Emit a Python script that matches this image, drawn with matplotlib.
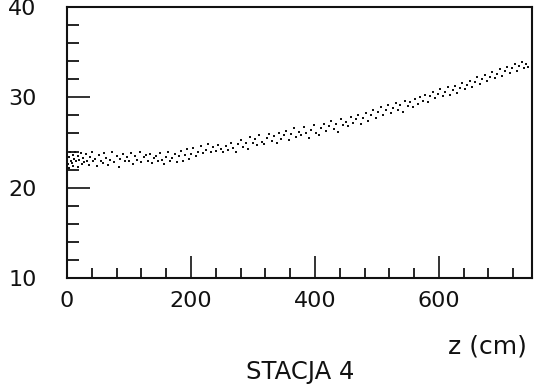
import matplotlib
matplotlib.use("Agg")
import matplotlib.pyplot as plt
from matplotlib.ticker import MultipleLocator, FixedLocator

# points (z in cm, value)
z_pts = [
    2, 3, 4, 5, 6, 8, 9, 10, 12, 13, 15, 17, 18, 20, 22, 24, 26, 28, 30, 32, 35, 37, 40, 42, 45, 48,
    52, 55, 58, 60, 63, 66, 70, 72, 75, 80, 84, 86, 90, 93, 97, 100, 103, 106, 110, 113, 117, 120,
    124, 127, 130, 134, 137, 140, 144, 147,
    150, 153, 156, 160, 163, 166, 170, 174, 177, 180, 184, 187, 190, 194, 197, 200, 204, 208, 212,
    216, 220, 224, 228, 232, 236, 240, 244, 248,
    252, 256, 260, 264, 268, 272, 276, 280, 284, 288, 292, 296, 300, 303, 307, 310, 314, 318, 322,
    326, 330, 334, 338, 342, 346,
    350, 354, 358, 362, 366, 370, 374, 378, 382, 386, 390, 394, 398, 402, 406, 410, 414, 418, 422,
    426, 430, 434, 438, 442, 446,
    450, 454, 458, 462, 466, 470, 474, 478, 482, 486, 490, 494, 498, 502, 506, 510, 514, 518, 522,
    526, 530, 534, 538, 542, 546,
    550, 554, 558, 562, 566, 570, 574, 578, 582, 586, 590, 594, 598, 602, 606, 610, 614, 618, 622,
    626, 630, 634, 638, 642, 646,
    650, 654, 658, 662, 666, 670, 674, 678, 682, 686, 690, 694, 698, 702, 706, 710, 714, 718, 722,
    726, 730, 734, 738, 741, 744,
]
v_pts = [
    22.6, 23.4, 22.2, 23.9, 23.0, 22.7, 23.6, 22.4, 23.2, 24.0, 22.9, 23.5, 22.3, 23.1, 23.8, 22.6,
    23.3, 22.8, 23.7, 23.0, 22.5, 23.4, 23.9, 22.9, 23.2, 22.4,
    23.6, 23.0, 22.7, 23.8, 23.3, 22.5, 23.1, 23.9, 22.8, 23.5, 22.3, 23.2, 23.7, 22.9, 23.4, 23.0,
    23.8, 22.6, 23.5, 23.1, 23.9, 22.8, 23.4, 23.6, 23.0, 23.7, 22.7, 23.3, 23.5, 22.9,
    23.8, 23.1, 22.6, 23.4, 23.9, 22.9, 23.3, 23.7, 22.8, 23.5, 24.1, 23.0, 23.6, 24.3, 23.2, 23.7,
    24.4, 23.5, 24.0, 24.6, 23.8, 24.2, 24.8, 23.9, 24.5, 24.1, 24.7, 24.3,
    23.9, 24.6, 24.2, 25.0, 24.4, 24.0, 24.8, 25.3, 24.5, 25.0, 24.3, 25.6, 24.9, 25.4, 24.7, 25.8,
    25.1, 24.8, 25.5, 25.9, 25.2, 25.7, 25.0, 26.1, 25.4,
    25.8, 26.3, 25.3, 25.9, 26.6, 25.6, 26.2, 25.8, 26.7, 26.0, 25.5, 26.4, 26.9, 26.1, 25.8, 26.6,
    27.1, 26.3, 26.8, 27.4, 26.5, 27.0, 26.2, 27.6, 26.9,
    27.3, 26.8, 27.8, 27.2, 27.6, 28.1, 27.0, 27.7, 28.3, 27.4, 28.0, 28.6, 27.7, 28.4, 28.9, 28.1,
    28.6, 29.2, 28.3, 28.8, 29.4, 28.6, 29.1, 28.4, 29.6,
    29.0, 29.5, 28.9, 29.8, 29.3, 30.0, 29.6, 30.3, 29.5, 30.1, 30.6, 29.9, 30.4, 30.9, 30.1, 30.6,
    31.1, 30.3, 30.8, 31.3, 30.5, 31.0, 31.6, 30.9, 31.4,
    31.8, 31.2, 31.7, 32.2, 31.5, 32.0, 32.5, 31.8, 32.3, 32.8, 32.1, 32.6, 33.1, 32.4, 32.9, 33.4,
    32.7, 33.2, 33.7, 32.9, 33.5, 33.9, 33.2, 33.7, 33.4,
]

x_major = [0, 200, 400, 600]
x_labels = ["0", "200", "400", "600"]
y_major = [10, 20, 30, 40]
y_labels = ["10", "20", "30", "40"]

ink = "#111111"
plt.rcParams["font.family"] = "DejaVu Sans"

fig = plt.figure(figsize=(5.34, 3.89), dpi=100)
ax = fig.add_axes([0.1255, 0.2853, 0.8705, 0.6967])

ax.plot(z_pts, v_pts, linestyle="none", marker="s", markersize=2.1,
        markeredgewidth=0, color=ink)

ax.set_xlim(0, 750)
ax.set_ylim(10, 40)

for s in ax.spines.values():
    s.set_linewidth(1.5)
    s.set_color(ink)

ax.xaxis.set_major_locator(FixedLocator(x_major))
ax.xaxis.set_minor_locator(MultipleLocator(40))
ax.set_xticklabels(x_labels)
ax.yaxis.set_major_locator(FixedLocator(y_major))
ax.yaxis.set_minor_locator(MultipleLocator(2))
ax.set_yticklabels(y_labels)

ax.tick_params(axis="x", which="major", direction="in", length=16, width=1.2,
               pad=9, labelsize=16, colors=ink, top=False)
ax.tick_params(axis="x", which="minor", direction="in", length=7.5, width=1.2, top=False)
ax.tick_params(axis="y", which="major", direction="in", length=16.5, width=1.2,
               pad=22, labelsize=16, colors=ink, right=False)
ax.tick_params(axis="y", which="minor", direction="in", length=8.5, width=1.2, right=False)

fig.text(0.912, 0.108, "z (cm)", ha="center", va="center", fontsize=18, color=ink)
fig.text(0.562, 0.043, "STACJA 4", ha="center", va="center", fontsize=17.5, color=ink)

fig.savefig("out.png", dpi=100)
